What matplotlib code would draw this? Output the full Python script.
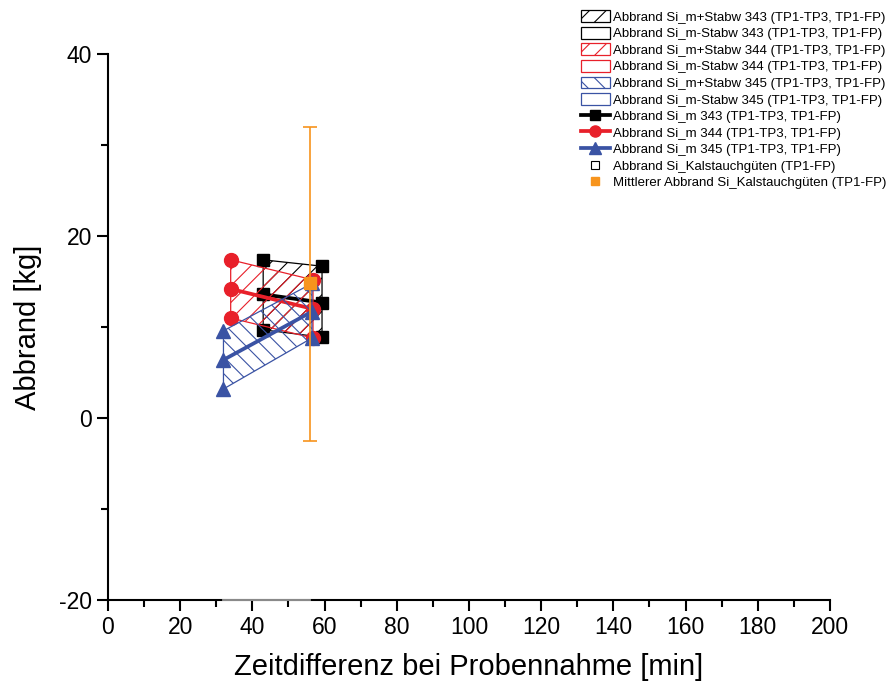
import matplotlib
matplotlib.use("Agg")
import matplotlib.pyplot as plt
from matplotlib.patches import Patch
from matplotlib.lines import Line2D

plt.rcParams['font.family'] = ['Liberation Sans', 'DejaVu Sans']
plt.rcParams['hatch.linewidth'] = 0.8
plt.rcParams['axes.unicode_minus'] = False

# time differences [min]
x343 = [43, 59.3]
x344 = [34, 56.8]
x345 = [32, 56.5]
# mean, mean+std, mean-std [kg]
m343 = [13.6, 12.7]
p343 = [17.4, 16.7]
n343 = [9.7, 8.9]
m344 = [14.2, 12.0]
p344 = [17.4, 15.2]
n344 = [11.0, 8.8]
m345 = [6.4, 11.7]
p345 = [9.6, 14.8]
n345 = [3.2, 8.8]
# average Kalstauchgüten
x_avg = [56.0]
y_avg = [14.8]
err_lo = [17.3]
err_hi = [17.2]
# Kalstauchgüten line near bottom
x_kal = [32, 56]
y_kal = [-20, -20]

c_black = '#000000'
c_red = '#E8202A'
c_blue = '#3A53A4'
c_orange = '#F7941D'

fig = plt.figure(figsize=(8.92, 6.96), dpi=100)
ax = fig.add_axes([0.121, 0.138, 0.8095, 0.784])

series = [
    (x343, m343, p343, n343, c_black, 's', 9, '//', 3),
    (x344, m344, p344, n344, c_red, 'o', 10, '//', 4),
    (x345, m345, p345, n345, c_blue, '^', 10, '\\\\', 5),
]
fills = []
means = []
for x, m, p, n, c, mk, ms, h, z in series:
    f = ax.fill_between(x, n, p, facecolor='none', edgecolor=c, hatch=h,
                        linewidth=0.9, zorder=z)
    fills.append(f)
    ln, = ax.plot(x, m, color=c, lw=2.7, marker=mk, ms=ms, zorder=z + 0.5)
    means.append(ln)
    ax.plot(x, p, ls='none', marker=mk, ms=ms, color=c, zorder=z + 0.5)
    ax.plot(x, n, ls='none', marker=mk, ms=ms, color=c, zorder=z + 0.5)

ax.plot(x_kal, y_kal, color='#999999', lw=1.3, zorder=6, clip_on=False)

ax.errorbar(x_avg, y_avg, yerr=[err_lo, err_hi], fmt='s', color=c_orange,
            ms=8, capsize=5, elinewidth=1.2, capthick=1.2, zorder=10)

ax.set_xlim(0, 200)
ax.set_ylim(-20, 40)
ax.set_xticks(range(0, 201, 20))
ax.set_xticks(range(10, 200, 20), minor=True)
ax.set_yticks([-20, 0, 20, 40])
ax.set_yticks([-10, 10, 30], minor=True)
for s in ['top', 'right']:
    ax.spines[s].set_visible(False)
for s in ['left', 'bottom']:
    ax.spines[s].set_linewidth(1.5)
ax.tick_params(which='major', direction='out', length=8, width=1.5, labelsize=16.5)
ax.tick_params(which='minor', direction='out', length=5, width=1.5)
ax.set_xlabel('Zeitdifferenz bei Probennahme [min]', fontsize=21, labelpad=10)
ax.set_ylabel('Abbrand [kg]', fontsize=21, labelpad=12)

handles = [
    fills[0], Patch(facecolor='none', edgecolor=c_black, linewidth=0.9),
    fills[1], Patch(facecolor='none', edgecolor=c_red, linewidth=0.9),
    fills[2], Patch(facecolor='none', edgecolor=c_blue, linewidth=0.9),
    means[0], means[1], means[2],
    Line2D([], [], ls='none', marker='s', ms=8, mfc='white', mec='black', mew=0.8),
    Line2D([], [], ls='none', marker='s', ms=8, mfc=c_orange, mec=c_orange),
]
labels = [
    'Abbrand Si_m+Stabw 343 (TP1-TP3, TP1-FP)',
    'Abbrand Si_m-Stabw 343 (TP1-TP3, TP1-FP)',
    'Abbrand Si_m+Stabw 344 (TP1-TP3, TP1-FP)',
    'Abbrand Si_m-Stabw 344 (TP1-TP3, TP1-FP)',
    'Abbrand Si_m+Stabw 345 (TP1-TP3, TP1-FP)',
    'Abbrand Si_m-Stabw 345 (TP1-TP3, TP1-FP)',
    'Abbrand Si_m 343 (TP1-TP3, TP1-FP)',
    'Abbrand Si_m 344 (TP1-TP3, TP1-FP)',
    'Abbrand Si_m 345 (TP1-TP3, TP1-FP)',
    'Abbrand Si_Kalstauchgüten (TP1-FP)',
    'Mittlerer Abbrand Si_Kalstauchgüten (TP1-FP)',
]
leg = fig.legend(handles, labels, loc='upper left', bbox_to_anchor=(0.645, 0.993),
                 frameon=False, fontsize=9.5, handlelength=2.25, handleheight=1.0,
                 handletextpad=0.22, labelspacing=0.24, borderaxespad=0,
                 markerscale=0.8)

fig.savefig('out.png', dpi=100)
